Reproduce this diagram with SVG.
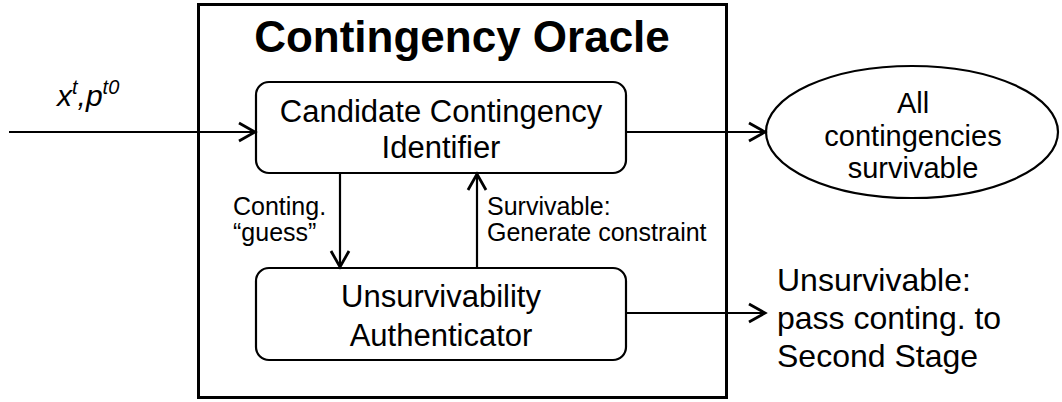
<svg xmlns="http://www.w3.org/2000/svg" width="1062" height="402" viewBox="0 0 1062 402">
<defs>
<marker id="arr" markerUnits="userSpaceOnUse" markerWidth="24" markerHeight="24" viewBox="-20 -12 24 24" refX="0" refY="0" orient="auto">
<path d="M-16,-9 L0,0 L-16,9" fill="none" stroke="#000" stroke-width="2.8"/>
</marker>
</defs>
<style>
text{font-family:"Liberation Sans",Arial,sans-serif;fill:#000}
.box{fill:#fff;stroke:#000;stroke-width:2.2}
.conn{fill:none;stroke:#000;stroke-width:2.2;marker-end:url(#arr)}
.big{font-size:31px;text-anchor:middle}
.lbl{font-size:25px}
.out{font-size:32px}
</style>
<rect width="1062" height="402" fill="#fff"/>
<g id="oracle">
<rect x="198.5" y="4.5" width="528" height="393" fill="none" stroke="#000" stroke-width="3"/>
<text x="462" y="52" font-size="44" font-weight="bold" text-anchor="middle">Contingency Oracle</text>
</g>
<g id="identifier">
<rect class="box" x="256" y="82" width="370" height="91" rx="13"/>
<text class="big" x="441" y="122">Candidate Contingency</text>
<text class="big" x="441" y="158">Identifier</text>
</g>
<g id="authenticator">
<rect class="box" x="256" y="268" width="370" height="92" rx="13"/>
<text class="big" x="441" y="307">Unsurvivability</text>
<text class="big" x="441" y="346">Authenticator</text>
</g>
<g id="survivable">
<ellipse cx="912" cy="132" rx="146" ry="66" fill="#fff" stroke="#000" stroke-width="2.2"/>
<text font-size="29" text-anchor="middle" x="913" y="113">All</text>
<text font-size="29" text-anchor="middle" x="913" y="146">contingencies</text>
<text font-size="29" text-anchor="middle" x="913" y="178">survivable</text>
</g>
<g id="unsurvivable">
<text class="out" x="777" y="291">Unsurvivable:</text>
<text class="out" x="777" y="329">pass conting. to</text>
<text class="out" x="777" y="367">Second Stage</text>
</g>
<g id="connectors">
<line class="conn" x1="9" y1="132" x2="255" y2="132"/>
<line class="conn" x1="626" y1="132" x2="765" y2="132"/>
<line class="conn" x1="340" y1="173" x2="340" y2="267"/>
<line class="conn" x1="477" y1="268" x2="477" y2="174"/>
<line class="conn" x1="626" y1="313" x2="765" y2="313"/>
<text font-size="30" font-style="italic" x="57" y="106">x<tspan font-size="20" dy="-12">t</tspan><tspan dy="12">,p</tspan><tspan font-size="20" dy="-12">t0</tspan></text>
<text class="lbl" x="233" y="215">Conting.</text>
<text class="lbl" x="233" y="241">“guess”</text>
<text class="lbl" x="487" y="215">Survivable:</text>
<text class="lbl" x="487" y="241">Generate constraint</text>
</g>
</svg>
